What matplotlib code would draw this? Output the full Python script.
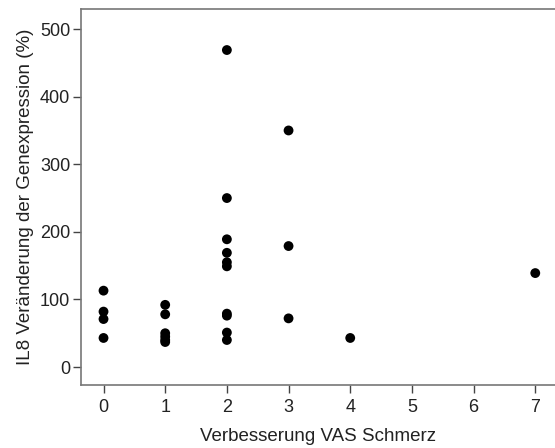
import matplotlib.pyplot as plt
import numpy as np

plt.rcParams['font.family'] = ['Liberation Sans', 'DejaVu Sans']

# Verbesserung VAS (x) vs. IL8-Veraenderung in % (y)
vas_gain = [0, 0, 0, 0,
            1, 1, 1, 1, 1, 1,
            2, 2, 2, 2, 2, 2, 2, 2, 2, 2,
            3, 3, 3,
            4,
            7]
il8_change = [113, 82, 71, 43,
              92, 78, 50, 45, 40, 37,
              469, 250, 189, 169, 155, 149, 79, 76, 51, 40,
              350, 179, 72,
              43,
              139]

x_ticks = np.arange(0, 8)
y_ticks = [0, 100, 200, 300, 400, 500]

fig = plt.figure(figsize=(5.55, 4.48), dpi=100)
ax = fig.add_axes([0.1454, 0.1406, 0.8546, 0.8393])

ax.scatter(vas_gain, il8_change, s=50, color='black', edgecolor='none', zorder=3)

ax.set_xlim(-0.37, 7.32)
ax.set_ylim(-26.6, 529.7)
ax.set_xticks(x_ticks)
ax.set_yticks(y_ticks)

for side in ['left', 'bottom', 'top']:
    ax.spines[side].set_color('#777777')
    ax.spines[side].set_linewidth(1.2)
ax.spines['right'].set_visible(False)

ax.tick_params(direction='out', length=6, width=1, color='#444444',
               labelsize=13, labelcolor='#222222')
ax.tick_params(axis='y', pad=1.5)
ax.tick_params(axis='x', pad=4)

ax.set_xlabel('Verbesserung VAS Schmerz', fontsize=13.5, color='#222222', labelpad=9)
ax.set_ylabel('IL8 Veränderung der Genexpression (%)', fontsize=13.5, color='#222222', labelpad=4)

fig.savefig('out.png', dpi=100)
